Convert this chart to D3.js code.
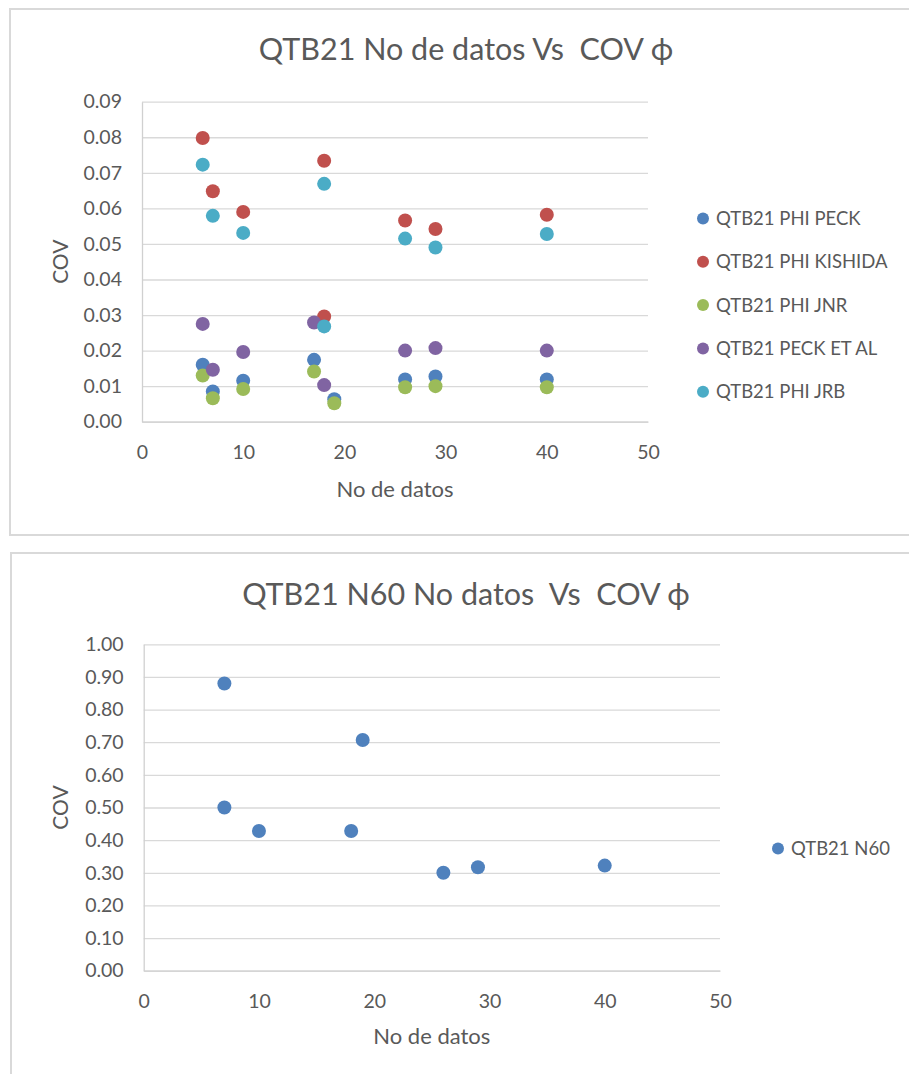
<!DOCTYPE html>
<html>
<head>
<meta charset="utf-8">
<script src="https://cdn.jsdelivr.net/npm/d3@7"></script>
<style>
  body { margin: 0; background: #fff; }
  text { font-family: Lato, "Open Sans", sans-serif; fill: #595959; }
</style>
</head>
<body>
<div id="chart"></div>
<script>
// data
var seriesNames = ["QTB21 PHI PECK", "QTB21 PHI KISHIDA", "QTB21 PHI JNR", "QTB21 PECK ET AL", "QTB21 PHI JRB"];
var seriesColors = ["#4f81bd", "#c0504d", "#9bbb59", "#8064a2", "#4bacc6"];

var xPeck = [6, 7, 10, 17, 19, 26, 29, 40];
var peck = [0.0160, 0.0085, 0.0115, 0.0174, 0.0063, 0.0119, 0.0127, 0.0119];
var xKishida = [6, 7, 10, 18, 18, 26, 29, 40];
var kishida = [0.0798, 0.0648, 0.0590, 0.0734, 0.0296, 0.0566, 0.0542, 0.0582];
var xJnr = [6, 7, 10, 17, 19, 26, 29, 40];
var jnr = [0.0130, 0.0066, 0.0092, 0.0141, 0.0052, 0.0097, 0.0100, 0.0097];
var xPeckEtAl = [6, 7, 10, 17, 18, 26, 29, 40];
var peckEtAl = [0.0275, 0.0146, 0.0196, 0.0279, 0.0103, 0.0200, 0.0207, 0.0200];
var xJrb = [6, 7, 10, 18, 18, 26, 29, 40];
var jrb = [0.0723, 0.0579, 0.0531, 0.0669, 0.0268, 0.0515, 0.0490, 0.0528];

var xN60 = [7, 19, 7, 10, 18, 26, 29, 40];
var n60 = [0.880, 0.707, 0.500, 0.428, 0.428, 0.300, 0.317, 0.322];

var xTicks = [0, 10, 20, 30, 40, 50];
var yTicksTop = [0, 0.01, 0.02, 0.03, 0.04, 0.05, 0.06, 0.07, 0.08, 0.09];
var yTicksBottom = [0, 0.1, 0.2, 0.3, 0.4, 0.5, 0.6, 0.7, 0.8, 0.9, 1.0];

var topSeries = [
  {name: seriesNames[0], xs: xPeck, ys: peck, color: seriesColors[0]},
  {name: seriesNames[1], xs: xKishida, ys: kishida, color: seriesColors[1]},
  {name: seriesNames[2], xs: xJnr, ys: jnr, color: seriesColors[2]},
  {name: seriesNames[3], xs: xPeckEtAl, ys: peckEtAl, color: seriesColors[3]},
  {name: seriesNames[4], xs: xJrb, ys: jrb, color: seriesColors[4]}
];
var bottomSeries = [
  {name: "QTB21 N60", xs: xN60, ys: n60, color: "#4f81bd"}
];

var svg = d3.select("#chart")
  .append("svg")
    .attr("width", 909)
    .attr("height", 1074);

// draws one excel-like scatter chart
function drawChart(cfg) {
  var g = svg.append("g");

  // chart frame
  g.append("rect")
    .attr("x", cfg.frame[0])
    .attr("y", cfg.frame[1])
    .attr("width", cfg.frame[2])
    .attr("height", cfg.frame[3])
    .attr("fill", "none")
    .attr("stroke", "#d9d9d9")
    .attr("stroke-width", 2);

  var x = d3.scaleLinear().domain([0, 50]).range([cfg.left, cfg.right]);
  var y = d3.scaleLinear().domain(cfg.yDomain).range([cfg.bottom, cfg.top]);

  // gridlines
  g.append("g")
    .attr("transform", "translate(" + cfg.left + ",0)")
    .call(d3.axisLeft(y).tickValues(cfg.yTicks).tickSize(-(cfg.right - cfg.left)).tickFormat(""))
    .call(function (a) {
      a.select(".domain").remove();
      a.selectAll("line").attr("stroke", "#d9d9d9").attr("stroke-width", 1.3);
    });

  // y labels
  g.append("g")
    .attr("transform", "translate(" + cfg.left + ",0)")
    .call(d3.axisLeft(y).tickValues(cfg.yTicks).tickSize(0).tickPadding(20).tickFormat(d3.format(".2f")))
    .call(function (a) {
      a.select(".domain").attr("stroke", "#d0d0d0").attr("stroke-width", 1.3);
      a.selectAll("text").style("font-size", "19.5px").attr("fill", "#595959")
        .style("font-family", "Lato, sans-serif");
    });

  // x axis
  g.append("g")
    .attr("transform", "translate(0," + cfg.bottom + ")")
    .call(d3.axisBottom(x).tickValues(xTicks).tickSize(0).tickPadding(23).tickFormat(d3.format("d")))
    .call(function (a) {
      a.select(".domain").attr("stroke", "#d0d0d0").attr("stroke-width", 1.3);
      a.selectAll("text").style("font-size", "19.5px").attr("fill", "#595959")
        .style("font-family", "Lato, sans-serif");
    });

  // title
  g.append("text")
    .attr("x", cfg.titleX)
    .attr("y", cfg.titleY)
    .attr("text-anchor", "middle")
    .style("font-size", "30.5px")
    .style("white-space", "pre")
    .text(cfg.title);

  // axis titles
  g.append("text")
    .attr("x", (cfg.left + cfg.right) / 2)
    .attr("y", cfg.xTitleY)
    .attr("text-anchor", "middle")
    .style("font-size", "22px")
    .text("No de datos");

  g.append("text")
    .attr("transform", "translate(" + 68 + "," + (cfg.top + cfg.bottom) / 2 + ") rotate(-90)")
    .attr("text-anchor", "middle")
    .style("font-size", "21px")
    .text("COV");

  // points
  cfg.series.forEach(function (s) {
    g.append("g")
      .selectAll("circle")
      .data(s.xs)
      .enter()
      .append("circle")
        .attr("cx", function (d) { return x(d); })
        .attr("cy", function (d, i) { return y(s.ys[i]); })
        .attr("r", 7)
        .style("fill", s.color);
  });

  // legend
  var legend = g.append("g")
    .selectAll("g")
    .data(cfg.series)
    .enter()
    .append("g")
    .attr("transform", function (d, i) {
      return "translate(" + cfg.legendX + "," + (cfg.legendY + i * cfg.legendStep) + ")";
    });

  legend.append("circle")
    .attr("r", 6)
    .style("fill", function (d) { return d.color; });

  legend.append("text")
    .attr("x", 13)
    .attr("dy", "0.35em")
    .style("font-size", "18.5px")
    .text(function (d) { return d.name; });
}

drawChart({
  frame: [10, 9, 920, 526],
  left: 142, right: 648, top: 101.7, bottom: 421.7,
  yDomain: [0, 0.09], yTicks: yTicksTop,
  title: "QTB21 No de datos Vs  COV \u03d5", titleX: 466, titleY: 60,
  xTitleY: 497,
  series: topSeries,
  legendX: 703, legendY: 218.5, legendStep: 43.3
});

drawChart({
  frame: [11, 553, 920, 540],
  left: 143.7, right: 720, top: 644.3, bottom: 970.7,
  yDomain: [0, 1], yTicks: yTicksBottom,
  title: "QTB21 N60 No datos  Vs  COV \u03d5", titleX: 466, titleY: 605,
  xTitleY: 1044,
  series: bottomSeries,
  legendX: 778, legendY: 848.5, legendStep: 0
});
</script>
</body>
</html>
